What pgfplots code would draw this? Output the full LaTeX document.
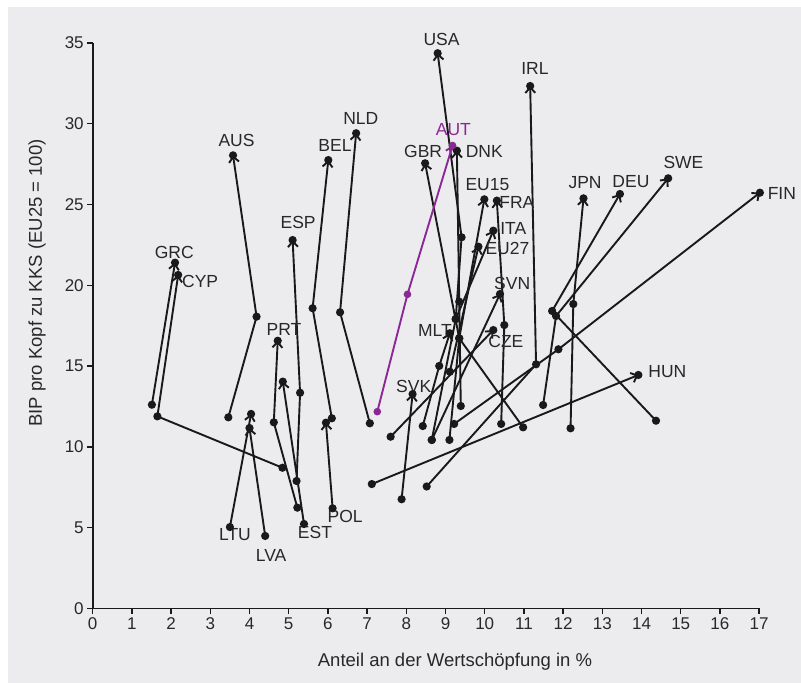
\documentclass[border=0pt]{standalone}
\usepackage{fontspec}
\setmainfont{Liberation Sans}
\usepackage{pgfplots}
\pgfplotsset{compat=1.18}
\usetikzlibrary{arrows.meta}
\definecolor{bg}{RGB}{236,236,238}
\definecolor{txt}{RGB}{40,40,40}
\definecolor{aut}{RGB}{140,40,150}
\definecolor{ln}{RGB}{25,25,25}
\pgfplotsset{
  country/.style={color=ln, line width=1.9bp, mark=*, mark size=3.1bp,
    -{Straight Barb[length=5.5bp,width=10bp]}}
}
\tikzset{lab/.style={font=\fontsize{17.5bp}{20bp}\selectfont, text=txt, inner sep=0pt}}
\begin{document}
\begin{tikzpicture}[x=1bp,y=1bp]
\fill[white] (0,0) rectangle (801,683);
\fill[bg] (8,0) rectangle (801,676);
\node[lab, font=\fontsize{18.5bp}{21bp}\selectfont] at (455,21) {Anteil an der Wertschöpfung in \%};
\node[lab, font=\fontsize{18.5bp}{21bp}\selectfont, rotate=90] at (37,400) {BIP pro Kopf zu KKS (EU25 = 100)};
\begin{axis}[
  at={(92.7bp,74.5bp)}, anchor=south west,
  x=39.2bp, y=16.16bp,
  xmin=0, xmax=17, ymin=0, ymax=35,
  axis lines=left,
  axis line style={-, line width=1.8bp, ln},
  xtick={0,1,...,17}, ytick={0,5,...,35},
  tick align=outside, major tick length=5.5bp,
  every tick/.style={ln, line width=1.3bp},
  tick label style={font=\fontsize{17bp}{20bp}\selectfont, text=txt},
  /pgf/number format/assume math mode=true,
  clip=false,
]
% left group
\addplot[country] coordinates {(1.51,12.61) (2.10,21.40)};
\addplot[country] coordinates {(4.84,8.71) (1.65,11.89) (2.18,20.64)};
\addplot[country] coordinates {(3.46,11.83) (4.18,18.06) (3.58,28.04)};
\addplot[country] coordinates {(3.50,5.04) (4.04,12.04)};
\addplot[country] coordinates {(4.40,4.49) (4.00,11.17)};
\addplot[country] coordinates {(5.22,6.24) (4.62,11.52) (4.72,16.57)};
\addplot[country] coordinates {(5.39,5.23) (4.85,14.04)};
\addplot[country] coordinates {(5.20,7.89) (5.29,13.35) (5.10,22.80)};
\addplot[country] coordinates {(6.10,11.77) (5.61,18.58) (6.01,27.75)};
\addplot[country] coordinates {(7.07,11.46) (6.31,18.33) (6.72,29.41)};
\addplot[country] coordinates {(6.12,6.20) (5.95,11.50)};
% middle / right
\addplot[country] coordinates {(7.88,6.76) (8.16,13.27)};
\addplot[country] coordinates {(7.12,7.70) (13.92,14.45)};
\addplot[country] coordinates {(8.52,7.55) (11.31,15.11) (11.16,32.33)};
\addplot[country] coordinates {(9.22,11.42) (11.88,16.04) (17.02,25.73)};
\addplot[country] coordinates {(12.19,11.15) (12.26,18.84) (12.52,25.38)};
\addplot[country] coordinates {(14.37,11.62) (11.72,18.41) (13.45,25.65)};
\addplot[country] coordinates {(11.49,12.59) (11.82,18.10) (14.68,26.62)};
\addplot[country] coordinates {(9.26,17.91) (9.41,22.97) (8.80,34.36)};
\addplot[country] coordinates {(9.39,12.53) (9.35,18.99) (9.29,28.33)};
\addplot[country] coordinates {(10.98,11.21) (9.35,16.72) (8.48,27.55)};
\addplot[country] coordinates {(10.42,11.42) (10.50,17.54) (10.31,25.24)};
\addplot[country] coordinates {(8.42,11.29) (8.84,15.01) (9.11,17.03)};
\addplot[country] coordinates {(7.60,10.63) (10.22,17.23)};
\addplot[country] coordinates {(9.10,10.43) (9.35,16.72) (9.99,25.32)};
\addplot[country] coordinates {(8.65,10.43) (9.26,17.91) (10.22,23.38)};
\addplot[country] coordinates {(9.11,14.65) (9.84,22.39)};
\addplot[country] coordinates {(8.65,10.43) (10.39,19.46)};
\addplot[country, color=aut, mark size=2.8bp] coordinates {(7.26,12.18) (8.03,19.44) (9.18,28.65)};
% labels
\node[lab] at (axis cs:8.90,35.22) {USA};
\node[lab] at (axis cs:11.28,33.40) {IRL};
\node[lab, text=aut] at (axis cs:9.20,29.65) {AUT};
\node[lab] at (axis cs:8.43,28.31) {GBR};
\node[lab] at (axis cs:9.99,28.27) {DNK};
\node[lab] at (axis cs:10.07,26.25) {EU15};
\node[lab] at (axis cs:10.82,25.14) {FRA};
\node[lab] at (axis cs:10.73,23.50) {ITA};
\node[lab] at (axis cs:10.58,22.29) {EU27};
\node[lab] at (axis cs:10.70,20.12) {SVN};
\node[lab] at (axis cs:12.56,26.35) {JPN};
\node[lab] at (axis cs:13.73,26.41) {DEU};
\node[lab] at (axis cs:15.07,27.59) {SWE};
\node[lab] at (axis cs:17.58,25.69) {FIN};
\node[lab] at (axis cs:8.73,17.23) {MLT};
\node[lab] at (axis cs:10.54,16.55) {CZE};
\node[lab] at (axis cs:14.66,14.64) {HUN};
\node[lab] at (axis cs:8.19,13.74) {SVK};
\node[lab] at (axis cs:2.08,22.04) {GRC};
\node[lab] at (axis cs:2.74,20.22) {CYP};
\node[lab] at (axis cs:3.67,28.95) {AUS};
\node[lab] at (axis cs:6.18,28.68) {BEL};
\node[lab] at (axis cs:6.84,30.33) {NLD};
\node[lab] at (axis cs:5.24,23.87) {ESP};
\node[lab] at (axis cs:4.88,17.28) {PRT};
\node[lab] at (axis cs:3.63,4.59) {LTU};
\node[lab] at (axis cs:4.55,3.31) {LVA};
\node[lab] at (axis cs:5.67,4.72) {EST};
\node[lab] at (axis cs:6.44,5.68) {POL};
\end{axis}
\end{tikzpicture}
\end{document}
